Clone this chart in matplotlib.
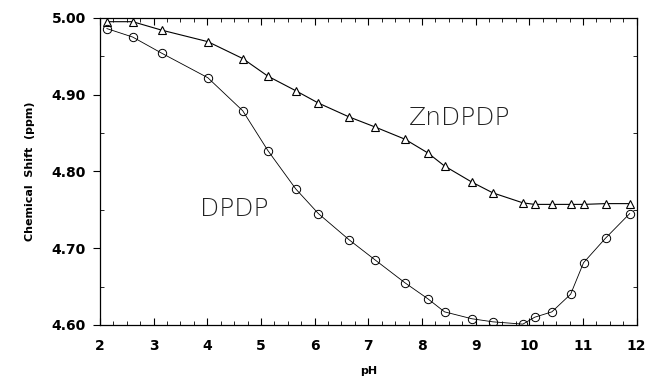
import matplotlib
matplotlib.use("Agg")
import matplotlib.pyplot as plt
from matplotlib.ticker import MultipleLocator, FormatStrFormatter

ph = [2.13, 2.61, 3.15, 4.01, 4.66, 5.13, 5.65, 6.07, 6.64, 7.12, 7.68, 8.11, 8.42,
      8.93, 9.32, 9.88, 10.10, 10.42, 10.77, 11.01, 11.42, 11.87]
zndpdp = [4.995, 4.995, 4.984, 4.969, 4.947, 4.924, 4.905, 4.889, 4.871, 4.858, 4.842,
          4.824, 4.807, 4.786, 4.772, 4.759, 4.757, 4.757, 4.757, 4.757, 4.758, 4.758]
dpdp = [4.986, 4.975, 4.954, 4.922, 4.879, 4.827, 4.777, 4.745, 4.711, 4.685, 4.655,
        4.634, 4.617, 4.608, 4.604, 4.601, 4.610, 4.617, 4.640, 4.681, 4.713, 4.745]

fig = plt.figure(figsize=(6.49, 3.80), dpi=100)
ax = fig.add_axes([0.154, 0.145, 0.827, 0.808])

ax.plot(ph, zndpdp, color="black", lw=0.8, marker="^", ms=6, mfc="white", mec="black", mew=0.8)
ax.plot(ph, dpdp, color="black", lw=0.6, marker="o", ms=6, mfc="none", mec="black", mew=0.7)

ax.set_xlim(2, 12)
ax.set_ylim(4.60, 5.00)
ax.xaxis.set_major_locator(MultipleLocator(1))
ax.xaxis.set_minor_locator(MultipleLocator(0.25))
ax.yaxis.set_major_locator(MultipleLocator(0.1))
ax.yaxis.set_minor_locator(MultipleLocator(0.05))
ax.yaxis.set_major_formatter(FormatStrFormatter("%.2f"))
ax.tick_params(axis="x", which="both", direction="in", top=True)
ax.tick_params(axis="x", which="major", length=5, width=0.8, pad=10)
ax.tick_params(axis="x", which="minor", length=3, width=0.6)
ax.tick_params(axis="y", which="major", direction="out", length=5, width=0.8, pad=5)
ax.tick_params(axis="y", which="minor", direction="in", length=3, width=0.6, right=True)
for lab in ax.get_xticklabels() + ax.get_yticklabels():
    lab.set_fontweight("bold")
    lab.set_fontsize(10)
for s in ax.spines.values():
    s.set_linewidth(0.9)

ax.set_ylabel("Chemical  Shift  (ppm)", fontsize=8, fontweight="bold", labelpad=12)
ax.set_xlabel("pH", fontsize=8, fontweight="bold")
ax.xaxis.set_label_coords(0.5, -0.135)

ax.text(7.75, 4.870, "ZnDPDP", fontsize=18, family="DejaVu Sans", fontweight="light",
        color="#222222", va="center", ha="left")
ax.text(3.86, 4.751, "DPDP", fontsize=18, family="DejaVu Sans", fontweight="light",
        color="#222222", va="center", ha="left")

fig.savefig("out.png", dpi=100)
